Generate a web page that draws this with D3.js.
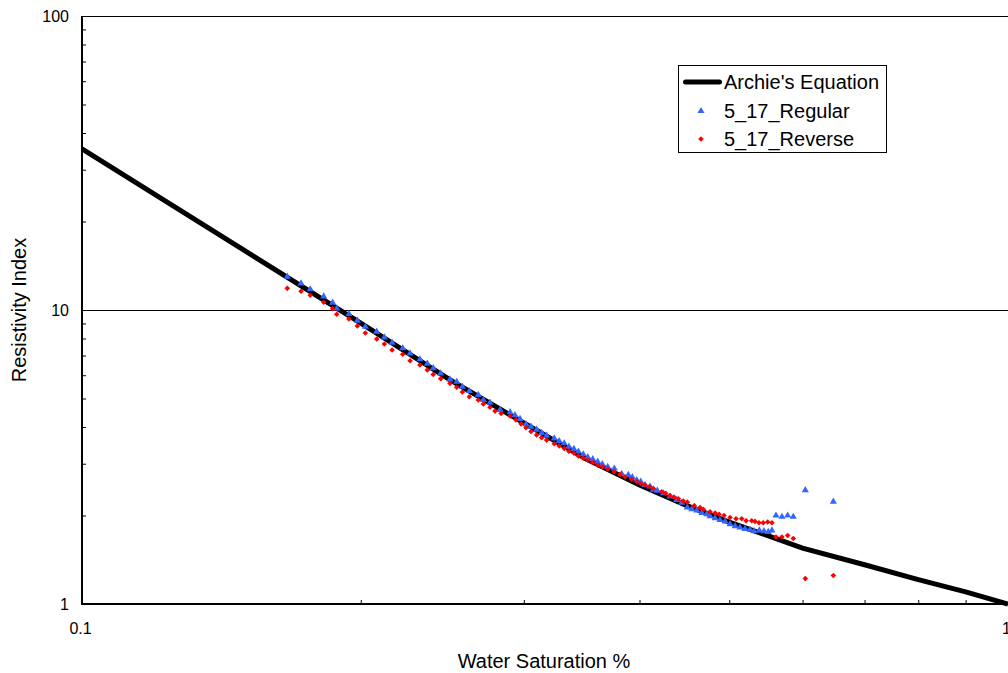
<!DOCTYPE html>
<html lang='en'>
  <head>
    <meta charset='utf-8'>
    <style type='text/css'>
      body { margin: 0; background-color: #fff; }
      #chart text { font-family: 'Liberation Sans', Arial, sans-serif; fill: #000; }
    </style>
  </head>
  <body>
    <div id='chart'></div>

    <script src='https://d3js.org/d3.v7.min.js'></script>
    <script type='text/javascript'>
        // ---- data ----
        var archieSw = [0.1, 0.2, 0.25, 0.3, 0.35, 0.4, 0.45, 0.5, 0.6, 0.7, 0.8, 0.9, 1.0];
        var archieRI = [35.3, 9.02, 5.77, 4.13, 3.12, 2.54, 2.16, 1.90, 1.55, 1.36, 1.21, 1.10, 1.0];

        var regularSw = [0.1666, 0.1724, 0.1764, 0.1824, 0.1865, 0.1884, 0.1942, 0.1983, 0.2023, 0.2081,
                         0.2121, 0.2162, 0.2220, 0.2261, 0.2317, 0.2360, 0.2395, 0.2440, 0.2497, 0.2539,
                         0.2575, 0.2620, 0.2679, 0.2713, 0.2758, 0.2828, 0.2899, 0.2935, 0.2972, 0.3016,
                         0.3054, 0.3097, 0.3136, 0.3175, 0.3236, 0.3276, 0.3317, 0.3356, 0.3398, 0.3436,
                         0.3478, 0.3517, 0.3561, 0.3605, 0.3647, 0.3696, 0.3757, 0.3827, 0.3890, 0.3929,
                         0.3972, 0.4012, 0.4055, 0.4106, 0.4140, 0.4181, 0.4245, 0.4315, 0.4388, 0.4443,
                         0.4505, 0.4555, 0.4612, 0.4670, 0.4728, 0.4767, 0.4827, 0.4887, 0.4949, 0.5010,
                         0.5073, 0.5136, 0.5200, 0.5265, 0.5318, 0.5388, 0.5451, 0.5509, 0.5560, 0.5616,
                         0.5700, 0.5782, 0.5863, 0.6041, 0.6477];
        var regularRI = [12.98, 12.32, 11.76, 11.13, 10.59, 10.13, 9.69, 9.20, 8.77, 8.44,
                         8.07, 7.74, 7.41, 7.12, 6.80, 6.57, 6.34, 6.09, 5.81, 5.70,
                         5.48, 5.30, 5.14, 4.94, 4.84, 4.57, 4.49, 4.39, 4.26, 4.09,
                         4.01, 3.92, 3.82, 3.74, 3.66, 3.58, 3.52, 3.43, 3.37, 3.30,
                         3.23, 3.16, 3.11, 3.05, 2.99, 2.93, 2.89, 2.77, 2.75, 2.70,
                         2.64, 2.61, 2.54, 2.51, 2.45, 2.43, 2.38, 2.32, 2.26, 2.21,
                         2.13, 2.10, 2.08, 2.04, 2.02, 1.99, 1.96, 1.93, 1.91, 1.87,
                         1.84, 1.82, 1.80, 1.79, 1.77, 1.78, 1.77, 1.76, 1.78, 2.00,
                         1.98, 2.00, 1.98, 2.44, 2.23];

        var reverseSw = [0.1666, 0.1724, 0.1764, 0.1824, 0.1865, 0.1884, 0.1942, 0.1983, 0.2023, 0.2081,
                         0.2121, 0.2162, 0.2220, 0.2261, 0.2317, 0.2360, 0.2395, 0.2440, 0.2497, 0.2539,
                         0.2575, 0.2620, 0.2679, 0.2713, 0.2758, 0.2793, 0.2835, 0.2899, 0.2942, 0.2979,
                         0.3016, 0.3054, 0.3097, 0.3136, 0.3175, 0.3236, 0.3276, 0.3317, 0.3356, 0.3398,
                         0.3436, 0.3478, 0.3517, 0.3561, 0.3605, 0.3647, 0.3696, 0.3757, 0.3811, 0.3858,
                         0.3923, 0.3972, 0.4012, 0.4055, 0.4100, 0.4140, 0.4227, 0.4269, 0.4315, 0.4358,
                         0.4405, 0.4460, 0.4505, 0.4584, 0.4650, 0.4688, 0.4767, 0.4827, 0.4875, 0.4936,
                         0.5010, 0.5085, 0.5158, 0.5214, 0.5287, 0.5331, 0.5384, 0.5441, 0.5501, 0.5560,
                         0.5616, 0.5700, 0.5782, 0.5863, 0.6041, 0.6477];
        var reverseRI = [11.85, 11.58, 11.22, 10.62, 10.10, 9.67, 9.32, 8.82, 8.35, 7.97,
                         7.66, 7.31, 7.07, 6.72, 6.50, 6.25, 6.04, 5.84, 5.63, 5.46,
                         5.26, 5.07, 4.94, 4.79, 4.67, 4.53, 4.45, 4.36, 4.23, 4.10,
                         3.98, 3.86, 3.76, 3.68, 3.61, 3.51, 3.45, 3.38, 3.31, 3.26,
                         3.19, 3.13, 3.09, 3.03, 2.97, 2.93, 2.88, 2.82, 2.76, 2.71,
                         2.66, 2.61, 2.57, 2.54, 2.51, 2.47, 2.41, 2.38, 2.34, 2.31,
                         2.28, 2.24, 2.22, 2.16, 2.13, 2.10, 2.06, 2.04, 2.02, 2.00,
                         1.97, 1.95, 1.95, 1.92, 1.92, 1.91, 1.89, 1.89, 1.90, 1.89,
                         1.69, 1.69, 1.71, 1.67, 1.22, 1.25];

        var yMajor = [1, 10, 100];
        var yMinor = [2, 3, 4, 5, 6, 7, 8, 9, 20, 30, 40, 50, 60, 70, 80, 90];
        var xMajor = [0.1, 1];
        var xMinor = [0.2, 0.3, 0.4, 0.5, 0.6, 0.7, 0.8, 0.9];
        var yGrid = [10, 100];

        var seriesNames = ["Archie's Equation", "5_17_Regular", "5_17_Reverse"];

        // ---- set up ----
        var W = 1008, H = 673;
        var svg = d3.select("#chart").append("svg")
            .attr("width", W).attr("height", H);

        var x = d3.scaleLog().domain([0.1, 1]).range([82, 1008]);
        var y = d3.scaleLog().domain([1, 100]).range([604, 16]);

        // gridlines
        svg.append("g").selectAll("line").data(yGrid).enter().append("line")
            .attr("x1", x(0.1)).attr("x2", W)
            .attr("y1", function(d) { return Math.round(y(d)) + 0.5; })
            .attr("y2", function(d) { return Math.round(y(d)) + 0.5; })
            .attr("stroke", "#000").attr("stroke-width", 1.2);

        // minor ticks (pointing inside the plot)
        svg.append("g")
            .attr("transform", "translate(" + x(0.1) + ",0)")
            .call(d3.axisRight(y).tickValues(yMinor).tickSize(4).tickFormat(""))
            .call(function(g) { g.select(".domain").remove(); })
            .selectAll("line").attr("stroke", "#000");

        svg.append("g")
            .attr("transform", "translate(0," + y(1) + ")")
            .call(d3.axisTop(x).tickValues(xMinor).tickSize(4).tickFormat(""))
            .call(function(g) { g.select(".domain").remove(); })
            .selectAll("line").attr("stroke", "#000");

        // major tick labels
        var yAxis = svg.append("g")
            .attr("transform", "translate(" + x(0.1) + ",0)")
            .call(d3.axisLeft(y).tickValues(yMajor).tickSize(0).tickPadding(13)
                  .tickFormat(function(d) { return String(d); }));
        yAxis.select(".domain").remove();
        yAxis.selectAll("text").style("font-size", "16px");

        var xAxis = svg.append("g")
            .attr("transform", "translate(0," + y(1) + ")")
            .call(d3.axisBottom(x).tickValues(xMajor).tickSize(0).tickPadding(19)
                  .tickFormat(function(d) { return String(d); }));
        xAxis.select(".domain").remove();
        xAxis.selectAll("text").style("font-size", "16px").attr("dx", "-2");

        // axis lines
        svg.append("line")
            .attr("x1", x(0.1)).attr("x2", x(0.1)).attr("y1", y(100)).attr("y2", y(1) + 1)
            .attr("stroke", "#000").attr("stroke-width", 2);
        svg.append("line")
            .attr("x1", x(0.1) - 1).attr("x2", W).attr("y1", y(1)).attr("y2", y(1))
            .attr("stroke", "#000").attr("stroke-width", 2);

        // axis titles
        svg.append("text")
            .attr("x", 544).attr("y", 668)
            .attr("text-anchor", "middle").style("font-size", "20px")
            .text("Water Saturation %");
        svg.append("text")
            .attr("transform", "translate(26,310) rotate(-90)")
            .attr("text-anchor", "middle").style("font-size", "20px")
            .text("Resistivity Index");

        // Archie's line
        var archie = archieSw.map(function(s, i) { return {sw: s, ri: archieRI[i]}; });
        var line = d3.line()
            .x(function(d) { return x(d.sw); })
            .y(function(d) { return y(d.ri); });
        svg.append("path").datum(archie)
            .attr("d", line)
            .attr("fill", "none").attr("stroke", "#000").attr("stroke-width", 5);

        // data points
        var tri = d3.symbol().type(d3.symbolTriangle).size(22);
        var dia = d3.symbol().type(d3.symbolDiamond2 || d3.symbolDiamond).size(20);

        svg.append("g").selectAll("path")
            .data(regularSw.map(function(s, i) { return {sw: s, ri: regularRI[i]}; }))
            .enter().append("path")
            .attr("d", tri)
            .attr("transform", function(d) { return "translate(" + x(d.sw) + "," + y(d.ri) + ")"; })
            .attr("fill", "#3366ff");

        svg.append("g").selectAll("path")
            .data(reverseSw.map(function(s, i) { return {sw: s, ri: reverseRI[i]}; }))
            .enter().append("path")
            .attr("d", dia)
            .attr("transform", function(d) { return "translate(" + x(d.sw) + "," + y(d.ri) + ")"; })
            .attr("fill", "#ff0000");

        // legend
        var lg = svg.append("g").attr("transform", "translate(678.5,65.5)");
        lg.append("rect").attr("width", 208).attr("height", 87)
            .attr("fill", "#fff").attr("stroke", "#000").attr("stroke-width", 1);
        lg.append("line").attr("x1", 7).attr("x2", 41).attr("y1", 16.5).attr("y2", 16.5)
            .attr("stroke", "#000").attr("stroke-width", 5).attr("stroke-linecap", "round");
        lg.append("path").attr("d", tri).attr("transform", "translate(22.5,45.5)").attr("fill", "#3366ff");
        lg.append("path").attr("d", dia).attr("transform", "translate(22.5,73.5)").attr("fill", "#ff0000");
        lg.selectAll("text.lbl").data(seriesNames).enter().append("text")
            .attr("class", "lbl")
            .attr("x", 45.5)
            .attr("y", function(d, i) { return 16.5 + i * 28.5; })
            .attr("dy", "0.35em")
            .style("font-size", "20px")
            .text(function(d) { return d; });
    </script>
  </body>
</html>
